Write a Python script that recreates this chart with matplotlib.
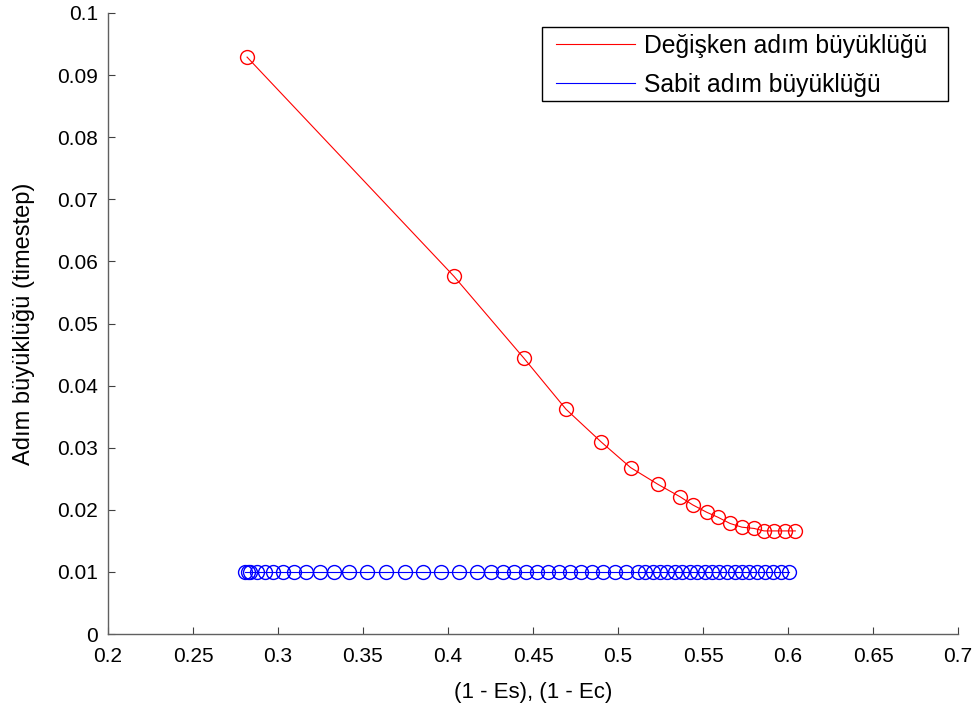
import matplotlib
matplotlib.use("Agg")
import matplotlib.pyplot as plt
from matplotlib.patches import Rectangle

# Variable step size results
x_var = [0.2818, 0.4035, 0.4447, 0.4694, 0.4902, 0.5074, 0.5235, 0.5365, 0.5439,
         0.5522, 0.5588, 0.5659, 0.5729, 0.5800, 0.5859, 0.5918, 0.5980, 0.6043]
y_var = [0.0929, 0.0576, 0.0444, 0.0362, 0.0309, 0.0268, 0.0241, 0.0221, 0.0208,
         0.0196, 0.0188, 0.0178, 0.0172, 0.0170, 0.0166, 0.0166, 0.0166, 0.0166]

# Fixed step size results
x_fix = [0.2806, 0.2824, 0.2838, 0.2876, 0.2924, 0.2971, 0.3029, 0.3094, 0.3165,
         0.3247, 0.3329, 0.3418, 0.3524, 0.3635, 0.3747, 0.3853, 0.3959, 0.4065,
         0.4171, 0.4253, 0.4324, 0.4388, 0.4459, 0.4524, 0.4588, 0.4653, 0.4718,
         0.4782, 0.4847, 0.4912, 0.4982, 0.5047, 0.5118, 0.5159, 0.5206, 0.5247,
         0.5288, 0.5335, 0.5376, 0.5424, 0.5465, 0.5512, 0.5553, 0.5594, 0.5641,
         0.5688, 0.5729, 0.5771, 0.5818, 0.5865, 0.5912, 0.5959, 0.6006]
y_fix = [0.01] * len(x_fix)

x_ticks = [0.2, 0.25, 0.3, 0.35, 0.4, 0.45, 0.5, 0.55, 0.6, 0.65, 0.7]
x_ticklabels = ["0.2", "0.25", "0.3", "0.35", "0.4", "0.45", "0.5", "0.55", "0.6", "0.65", "0.7"]
y_ticks = [0, 0.01, 0.02, 0.03, 0.04, 0.05, 0.06, 0.07, 0.08, 0.09, 0.1]
y_ticklabels = ["0", "0.01", "0.02", "0.03", "0.04", "0.05", "0.06", "0.07", "0.08", "0.09", "0.1"]

legend_labels = ["Değişken adım büyüklüğü", "Sabit adım büyüklüğü"]
x_label = "(1 - Es), (1 - Ec)"
y_label = "Adım büyüklüğü (timestep)"

font = "Liberation Sans"
W, H = 979, 704

fig = plt.figure(figsize=(W / 100, H / 100), dpi=100)
ax = fig.add_axes([108 / W, 70 / H, 850 / W, 621 / H])

ax.plot(x_var, y_var, color="#ff0000", lw=0.8, marker="o", ms=10,
        mfc="none", mec="#ff0000", mew=1.0, label=legend_labels[0])
ax.plot(x_fix, y_fix, color="#0000ff", lw=0.8, marker="o", ms=10,
        mfc="none", mec="#0000ff", mew=1.0, label=legend_labels[1])

ax.set_xlim(0.2, 0.7)
ax.set_ylim(0, 0.1)
ax.set_xticks(x_ticks)
ax.set_xticklabels(x_ticklabels, fontfamily=font, fontsize=15)
ax.set_yticks(y_ticks)
ax.set_yticklabels(y_ticklabels, fontfamily=font, fontsize=15)
ax.tick_params(axis="x", direction="in", length=5, width=0.8, color="#404040", pad=9)
ax.tick_params(axis="y", direction="in", length=5, width=0.8, color="#404040", pad=7)

for side in ("top", "right"):
    ax.spines[side].set_visible(False)
for side in ("left", "bottom"):
    ax.spines[side].set_color("#606060")
    ax.spines[side].set_linewidth(1.0)

ax.set_xlabel(x_label, fontfamily=font, fontsize=16, labelpad=12)
ax.set_ylabel(y_label, fontfamily=font, fontsize=17, labelpad=16)

# Legend entries without a frame; the box is drawn separately
leg = ax.legend(loc="upper left", bbox_to_anchor=(556 / W, 1 - 34 / H),
                bbox_transform=fig.transFigure, prop={"family": font, "size": 17.8},
                handlelength=3.2, handletextpad=0.35, borderpad=0,
                borderaxespad=0, labelspacing=0.6, frameon=False)
for h in leg.legend_handles:
    h.set_marker("")

fig.patches.append(Rectangle((542 / W, 1 - 101 / H), 406 / W, 74 / H,
                             transform=fig.transFigure, fill=False,
                             edgecolor="black", linewidth=1.0))

fig.savefig("out.png", dpi=100)
